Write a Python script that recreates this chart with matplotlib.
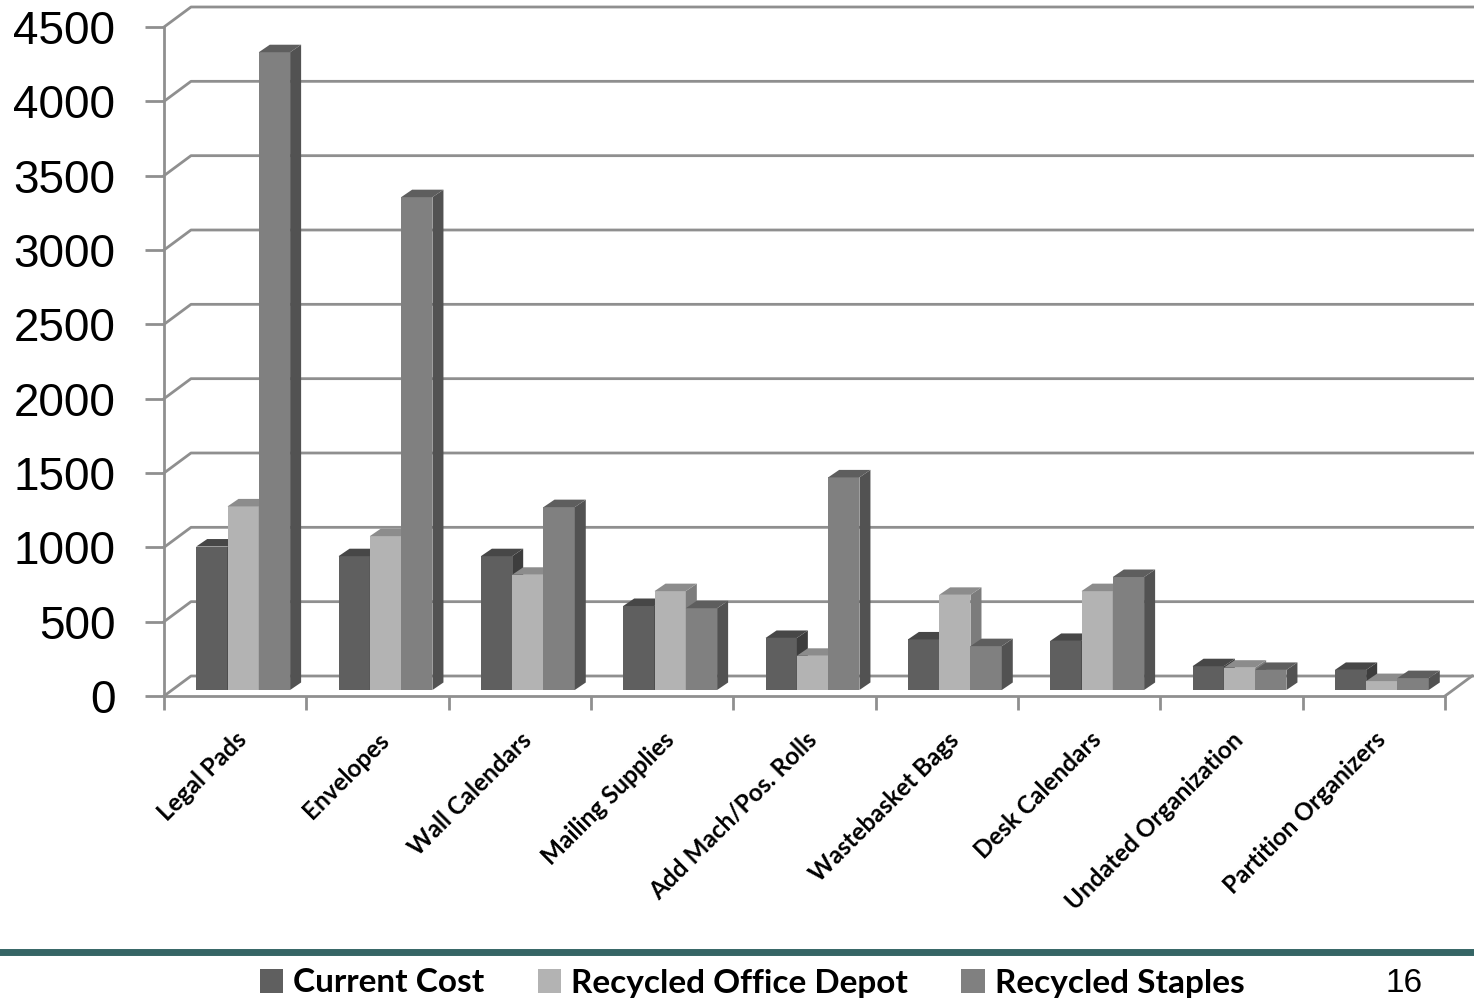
import matplotlib
matplotlib.use('Agg')
import matplotlib.pyplot as plt
from matplotlib.patches import Polygon, Patch

categories = ['Legal Pads', 'Envelopes', 'Wall Calendars', 'Mailing Supplies',
              'Add Mach/Pos. Rolls', 'Wastebasket Bags', 'Desk Calendars',
              'Undated Organization', 'Partition Organizers']
current_cost = [965, 900, 900, 565, 350, 340, 330, 160, 135]
office_depot = [1235, 1035, 775, 665, 230, 640, 665, 150, 60]
staples = [4290, 3315, 1230, 550, 1430, 295, 760, 135, 80]
series_names = ['Current Cost', 'Recycled Office Depot', 'Recycled Staples']

front_cols = ['#5f5f5f', '#b3b3b3', '#808080']
top_cols = ['#474747', '#8c8c8c', '#5e5e5e']
side_cols = ['#3d3d3d', '#7c7c7c', '#525252']
grid_col = '#8f8f8f'

fig = plt.figure(figsize=(14.74, 10.02), dpi=100)
W, H = 1474, 1002
ax = fig.add_axes([164 / W, 1 - 696 / H, (1445 - 164) / W, (696 - 27) / H])
ax.set_xlim(0, 9)
ax.set_ylim(0, 4500)

# pixel -> data scales
px_x = (1445 - 164) / 9.0
px_y = (696 - 27) / 4500.0
wall_dx, wall_dy = 27 / px_x, 20 / px_y
right_end = (1474 - 164) / px_x

# side wall + back wall gridlines
for v in range(0, 5000, 500):
    ax.plot([0, wall_dx, right_end], [v, v + wall_dy, v + wall_dy],
            color=grid_col, lw=2, clip_on=False, zorder=1)
# floor right edge
ax.plot([9, 9 + wall_dx], [0, wall_dy], color=grid_col, lw=2, clip_on=False, zorder=1)

# bars (fake 3d)
bw = 31.3 / px_x
fx, fy = 8 / px_x, 6 / px_y
bdx, bdy = 11 / px_x, 7.5 / px_y
z = 3
for i in range(len(categories)):
    for j, vals in enumerate([current_cost, office_depot, staples]):
        v = vals[i]
        x0 = i + 0.5 - 1.5 * bw + j * bw + fx
        ax.bar(x0, v, width=bw, bottom=fy, align='edge', color=front_cols[j],
               edgecolor='none', zorder=z, clip_on=False)
        side = [(x0 + bw, fy), (x0 + bw + bdx, fy + bdy),
                (x0 + bw + bdx, fy + v + bdy), (x0 + bw, fy + v)]
        top = [(x0, fy + v), (x0 + bdx, fy + v + bdy),
               (x0 + bw + bdx, fy + v + bdy), (x0 + bw, fy + v)]
        ax.add_patch(Polygon(side, closed=True, color=side_cols[j], lw=0, zorder=z, clip_on=False))
        ax.add_patch(Polygon(top, closed=True, color=top_cols[j], lw=0, zorder=z, clip_on=False))
        z += 1

for s in ['top', 'right']:
    ax.spines[s].set_visible(False)
for s in ['left', 'bottom']:
    ax.spines[s].set_color(grid_col)
    ax.spines[s].set_linewidth(2)
ax.set_facecolor('none')

ax.set_yticks(range(0, 5000, 500))
ax.set_yticklabels([str(v) for v in range(0, 5000, 500)],
                   fontsize=33, family='Liberation Sans')
ax.tick_params(axis='y', length=14, width=2, color=grid_col, pad=21)

ax.set_xticks(range(0, 10))
ax.set_xticklabels([])
ax.tick_params(axis='x', which='major', length=10, width=2, color=grid_col)
ax.set_xticks([i + 0.5 for i in range(9)], minor=True)
ax.set_xticklabels(categories, minor=True, rotation=45, ha='right',
                   rotation_mode='anchor', fontsize=17.5, fontweight='bold', family='Lato')
ax.tick_params(axis='x', which='minor', length=0, pad=23)

# teal divider line
fig.add_artist(plt.Line2D([0, 1], [1 - 952 / H, 1 - 952 / H],
                          color='#356565', lw=5, transform=fig.transFigure))

handles = [Patch(facecolor=c, edgecolor='none') for c in front_cols]
fig.legend(handles, series_names, loc='center', bbox_to_anchor=(752 / W, 1 - 983 / H),
           ncol=3, frameon=False, prop={'family': 'Lato', 'weight': 'bold', 'size': 24},
           handlelength=0.7, handleheight=0.7, handletextpad=0.3, columnspacing=1.6)

fig.text(1385 / W, 1 - 999 / H, '16', fontsize=24, family='Liberation Sans', ha='left', va='bottom')

fig.savefig('out.png', dpi=100)
